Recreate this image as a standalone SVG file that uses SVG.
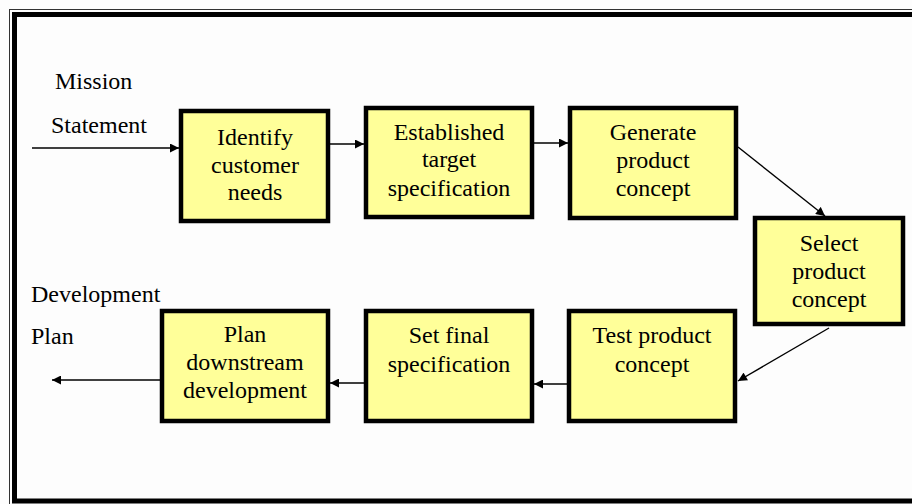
<svg xmlns="http://www.w3.org/2000/svg" width="912" height="504" viewBox="0 0 912 504">
  <style>
    .box { fill: #FFFF99; stroke: #000; stroke-width: 4.5; }
    .lbl { font-size: 24px; fill: #000; }
    .mid { text-anchor: middle; }
    .wire { stroke: #000; stroke-width: 1.4; fill: none; marker-end: url(#head); }
  </style>
  <defs>
    <marker id="head" viewBox="0 0 10 10" refX="10" refY="5" markerWidth="10" markerHeight="9" markerUnits="userSpaceOnUse" orient="auto">
      <path d="M0,0 L10,5 L0,10 Z" fill="#000"/>
    </marker>
  </defs>

  <!-- page background and double frame -->
  <rect x="0" y="0" width="912" height="504" fill="#fdfdfd"/>
  <rect x="9.5" y="9.5" width="920" height="520" fill="none" stroke="#333" stroke-width="1"/>
  <rect x="14.5" y="14.5" width="920" height="486.5" fill="none" stroke="#000" stroke-width="5"/>

  <g font-family="Liberation Serif, DejaVu Serif, Times New Roman, serif">
  <!-- outside labels -->
  <text class="lbl" x="55" y="89">Mission</text>
  <text class="lbl" x="51" y="133">Statement</text>
  <text class="lbl" x="31" y="302">Development</text>
  <text class="lbl" x="31" y="344">Plan</text>

  <g id="identify">
    <rect class="box" x="181" y="111" width="147" height="110"/>
    <text class="lbl mid" x="255" y="145">Identify</text>
    <text class="lbl mid" x="255" y="173">customer</text>
    <text class="lbl mid" x="255" y="200">needs</text>
  </g>
  <g id="target">
    <rect class="box" x="366" y="108" width="166" height="109"/>
    <text class="lbl mid" x="449" y="140">Established</text>
    <text class="lbl mid" x="449" y="167">target</text>
    <text class="lbl mid" x="449" y="196">specification</text>
  </g>
  <g id="generate">
    <rect class="box" x="570" y="108" width="166" height="110"/>
    <text class="lbl mid" x="653" y="140">Generate</text>
    <text class="lbl mid" x="653" y="168">product</text>
    <text class="lbl mid" x="653" y="196">concept</text>
  </g>
  <g id="select">
    <rect class="box" x="755" y="218" width="148" height="106"/>
    <text class="lbl mid" x="829" y="251">Select</text>
    <text class="lbl mid" x="829" y="279">product</text>
    <text class="lbl mid" x="829" y="307">concept</text>
  </g>
  <g id="test">
    <rect class="box" x="569" y="311" width="166" height="110"/>
    <text class="lbl mid" x="652" y="343">Test product</text>
    <text class="lbl mid" x="652" y="372">concept</text>
  </g>
  <g id="final">
    <rect class="box" x="366" y="311" width="166" height="110"/>
    <text class="lbl mid" x="449" y="343">Set final</text>
    <text class="lbl mid" x="449" y="372">specification</text>
  </g>
  <g id="downstream">
    <rect class="box" x="162" y="311" width="166" height="110"/>
    <text class="lbl mid" x="245" y="342">Plan</text>
    <text class="lbl mid" x="245" y="370">downstream</text>
    <text class="lbl mid" x="245" y="398">development</text>
  </g>
  </g>

  <g id="connectors">
    <line class="wire" x1="32" y1="148" x2="179" y2="148"/>
    <line class="wire" x1="330" y1="144" x2="364" y2="144"/>
    <line class="wire" x1="534" y1="143" x2="568" y2="143"/>
    <line class="wire" x1="738" y1="147" x2="825" y2="216"/>
    <line class="wire" x1="829" y1="328" x2="738" y2="381"/>
    <line class="wire" x1="567" y1="384" x2="534" y2="384"/>
    <line class="wire" x1="364" y1="383" x2="330" y2="383"/>
    <line class="wire" x1="160" y1="380" x2="52" y2="380"/>
  </g>
</svg>
